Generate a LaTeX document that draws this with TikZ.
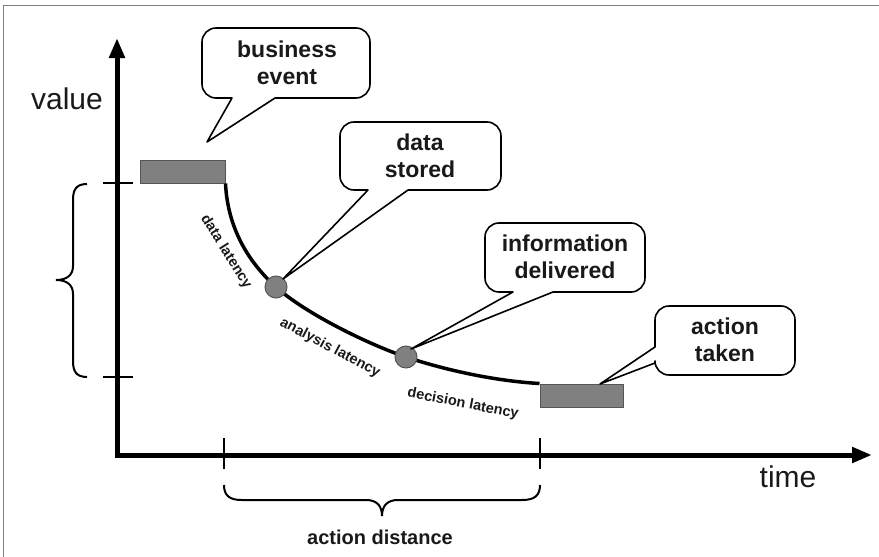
\documentclass[tikz,border=0pt]{standalone}
\usepackage{fontspec}
\setmainfont{Liberation Sans}
\usetikzlibrary{arrows.meta}
\definecolor{barfill}{RGB}{128,128,128}
\definecolor{barline}{RGB}{85,85,85}
\definecolor{ink}{RGB}{25,25,25}
\tikzset{
  axis/.style={line width=5pt, -{Triangle[length=20pt,width=15pt]}},
  tickmark/.style={line width=2.5pt},
  brace/.style={line width=2pt},
  bar/.style={draw=barline, line width=1pt, fill=barfill, minimum width=85pt, minimum height=23pt, inner sep=0pt},
  dot/.style={circle, draw=barline, line width=1pt, fill=barfill, minimum size=22pt, inner sep=0pt},
  calltext/.style={font=\fontsize{23}{27}\selectfont\bfseries, text=ink, align=center},
  callout/.style={line width=1.6pt, fill=white, line join=round},
  lat/.style={font=\fontsize{14.5}{16}\selectfont\bfseries, text=ink},
  axlabel/.style={font=\fontsize{30}{32}\selectfont, text=ink},
}
\begin{document}
\begin{tikzpicture}[x=1pt, y=-1pt]
\useasboundingbox (0,0) rectangle (879,557);
% frame edges
\draw[gray, line width=1pt] (3,557) -- (3,5) -- (879,5);

% axes
\coordinate (origin) at (117,455);
\coordinate (ytip) at (117,38);
\coordinate (xtip) at (872,455);
\draw[axis] (117,457.5) -- (ytip);
\draw[axis] (114.5,455) -- (xtip);
\node[axlabel] (vlabel) at (67,99) {value};
\node[axlabel] (tlabel) at (788,477) {time};

% value ticks and brace
\draw[tickmark] (103,183) -- (133,183);
\draw[tickmark] (103,377) -- (133,377);
\draw[brace] (87,184) .. controls (76,184) and (73,190) .. (73,200) -- (73,266)
  .. controls (73,275) and (67,280) .. (56,280)
  .. controls (67,280) and (73,285) .. (73,294) -- (73,361)
  .. controls (73,371) and (76,377) .. (87,377);

% time ticks and brace
\draw[brace] (224,438) -- (224,469);
\draw[brace] (540,438) -- (540,469);
\draw[brace] (224,485) .. controls (224,496) and (230,500) .. (242,500) -- (366,500)
  .. controls (376,500) and (382,505) .. (382,516)
  .. controls (382,505) and (388,500) .. (398,500) -- (522,500)
  .. controls (534,500) and (540,496) .. (540,485);
\node[font=\fontsize{20}{22}\selectfont\bfseries, text=ink] (dist) at (380,537) {action distance};

% event and action bars
\node[bar] (be) at (182.5,171.5) {};
\node[bar, minimum width=83pt] (at) at (581.5,395.5) {};

% value decay curve
\coordinate (c1pos) at (276,287);
\coordinate (c2pos) at (406,357);
\draw[line width=3.5pt] (be.south east)
  .. controls (228,235) and (255,268) .. (c1pos)
  .. controls (306,314) and (370,345) .. (c2pos)
  .. controls (445,370) and (495,381) .. (at.north west);
\node[dot] (c1) at (c1pos) {};
\node[dot] (c2) at (c2pos) {};

% latency labels
\node[lat, rotate=-58] (dl) at (226,252) {data latency};
\node[lat, rotate=-28] (al) at (330,348) {analysis latency};
\node[lat, rotate=-11] (decl) at (463,404) {decision latency};

% callouts
\coordinate (pbe) at (207,142);
\draw[callout] (275,98) [rounded corners=14pt] -- (370,98) -- (370,28) -- (202,28) -- (202,98) [sharp corners] -- (232,98) -- (pbe) -- cycle;
\node[calltext] (bet) at (287,63) {business\\event};

\coordinate (pds) at (283,279);
\draw[callout] (408,190) [rounded corners=14pt] -- (501,190) -- (501,122) -- (340,122) -- (340,190) [sharp corners] -- (368,190) -- (pds) -- cycle;
\node[calltext] (dst) at (420,156) {data\\stored};

\coordinate (pid) at (411,349);
\draw[callout] (553,292) [rounded corners=14pt] -- (645,292) -- (645,223) -- (485,223) -- (485,292) [sharp corners] -- (513,292) -- (pid) -- cycle;
\node[calltext] (idt) at (565,257) {information\\delivered};

\coordinate (pat) at (600,384);
\draw[callout] (655,347) [rounded corners=14pt] -- (655,306) -- (795,306) -- (795,375) -- (655,375) [sharp corners] -- (655,363) -- (pat) -- cycle;
\node[calltext] (att) at (725,340) {action\\taken};
\end{tikzpicture}
\end{document}
